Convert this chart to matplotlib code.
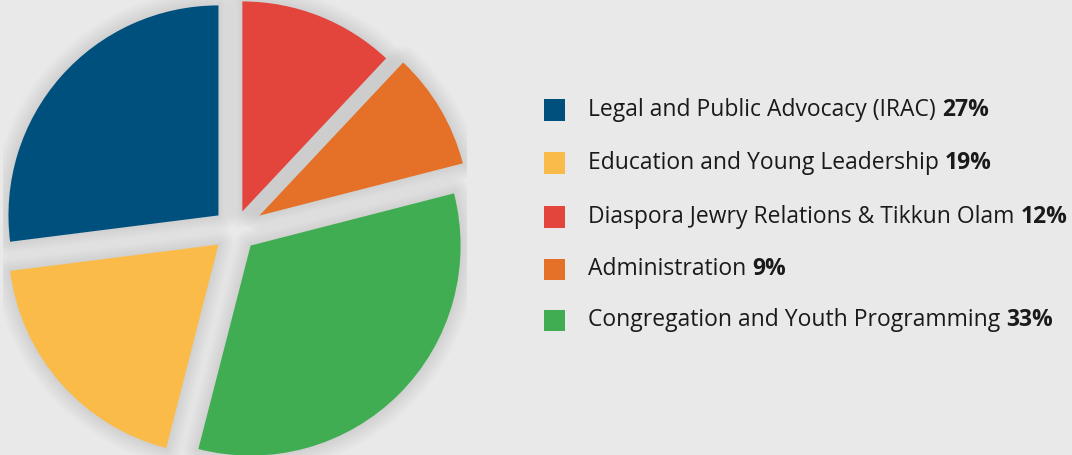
import matplotlib
matplotlib.use("Agg")
import matplotlib.pyplot as plt
from matplotlib.patches import Wedge, Rectangle

# Data
categories = ["Diaspora Jewry Relations & Tikkun Olam", "Administration",
              "Congregation and Youth Programming", "Education and Young Leadership",
              "Legal and Public Advocacy (IRAC)"]
shares = [12, 9, 33, 19, 27]
colors = ["#e3443c", "#e57028", "#41ad52", "#fbbb48", "#00507d"]

legend_order = [4, 3, 0, 1, 2]

bg = "#e9e9e9"
W, H = 1072, 455
fig = plt.figure(figsize=(W / 100, H / 100), dpi=100, facecolor=bg)

# Pie axes (pixel layout: center ~ (235, 230), radius ~ 210 px)
cx, cy, half = 235, 230, 232
ax = fig.add_axes([(cx - half) / W, (H - cy - half) / H, 2 * half / W, 2 * half / H])
ax.set_facecolor(bg)
explode = [0.095, 0.135, 0.105, 0.105, 0.105]
wedges, _ = ax.pie(shares, colors=colors, startangle=90, counterclock=False,
                   explode=explode, radius=1.0, wedgeprops=dict(linewidth=0, zorder=5))
lim = half / 210
ax.set_xlim(-lim, lim)
ax.set_ylim(-lim, lim)
ax.set_aspect("equal")
ax.axis("off")

# soft shadow around slices
for w in wedges:
    for lw in range(2, 26, 2):
        s = Wedge(w.center, w.r, w.theta1, w.theta2, facecolor="none",
                  edgecolor="black", linewidth=lw, alpha=0.007, joinstyle="round",
                  zorder=1)
        ax.add_patch(s)

# Legend
rows_y = [110, 163, 217, 269, 320]
sq = 21
fs = 16.5
for y, i in zip(rows_y, legend_order):
    fig.patches.append(Rectangle((544 / W, (H - y - sq / 2) / H), sq / W, sq / H,
                                 transform=fig.transFigure, facecolor=colors[i],
                                 edgecolor="none"))
    t = fig.text(588 / W, (H - y) / H, categories[i] + " ", fontsize=fs,
                 family="Open Sans", color="#1a1a1a", va="center", ha="left")
    ax.annotate(f"{shares[i]}%", xy=(1, 0.5), xycoords=t, fontsize=fs,
                family="Open Sans", fontweight="bold", color="#1a1a1a",
                va="center", ha="left", annotation_clip=False)

fig.savefig("out.png", dpi=100, facecolor=bg)
